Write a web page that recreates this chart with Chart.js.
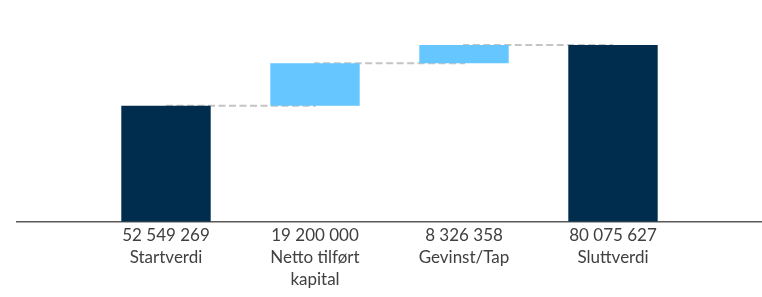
<!DOCTYPE html>
<html>
<head>
<meta charset="utf-8">
<script src="https://cdn.jsdelivr.net/npm/chart.js@4/dist/chart.umd.min.js"></script>
<style>
  html, body { margin: 0; padding: 0; background: #ffffff; }
  #wrap { width: 762px; height: 297px; position: relative; }
</style>
</head>
<body>
<div id="wrap"><canvas id="c"></canvas></div>
<script>
// ---- data ----
const categories = ['Startverdi', ['Netto tilført', 'kapital'], 'Gevinst/Tap', 'Sluttverdi'];
const values = [52549269, 19200000, 8326358, 80075627];
const kinds = ['total', 'delta', 'delta', 'total'];
const yMax = 100000000;

// ---- build waterfall ranges ----
function fmt(n) { return String(n).replace(/\B(?=(\d{3})+(?!\d))/g, ' '); }
const ranges = [];
const levels = [];
let running = 0;
values.forEach((v, i) => {
  if (kinds[i] === 'total') { ranges.push([0, v]); running = v; }
  else { ranges.push([running, running + v]); running += v; }
  levels.push(running);
});

// pad one empty slot on each side
const labels = [''].concat(categories.map((c, i) => [fmt(values[i])].concat(Array.isArray(c) ? c : [c])), ['']);
const barData = [null].concat(ranges, [null]);
const lineData = [null].concat(levels, [null]);
const dark = '#002D4E', light = '#66C6FF';
const barColors = [null].concat(kinds.map(k => k === 'total' ? dark : light), [null]);

new Chart(document.getElementById('c'), {
  type: 'bar',
  data: {
    labels: labels,
    datasets: [
      {
        type: 'bar',
        data: barData,
        backgroundColor: barColors,
        borderWidth: 0,
        categoryPercentage: 0.6,
        barPercentage: 1.0,
        order: 1
      },
      {
        type: 'line',
        data: lineData,
        stepped: 'before',
        borderColor: '#C4C4C4',
        borderWidth: 2,
        borderDash: [7, 3.5],
        pointRadius: 0,
        fill: false,
        spanGaps: false,
        order: 2
      }
    ]
  },
  options: {
    responsive: true,
    maintainAspectRatio: false,
    animation: false,
    layout: { autoPadding: false, padding: { left: 17, right: 0, top: 1, bottom: 6 } },
    plugins: { legend: { display: false }, tooltip: { enabled: false } },
    scales: {
      x: {
        offset: false,
        grid: { display: true, drawOnChartArea: false, drawTicks: true, tickLength: 3, color: 'rgba(0,0,0,0)' },
        border: { display: true, color: '#595959', width: 1.5 },
        ticks: {
          autoSkip: false,
          maxRotation: 0,
          padding: 0,
          color: '#404040',
          font: { family: 'Lato', size: 17, lineHeight: 1.3 }
        }
      },
      y: {
        display: false,
        min: 0,
        max: yMax
      }
    }
  }
});
</script>
</body>
</html>
